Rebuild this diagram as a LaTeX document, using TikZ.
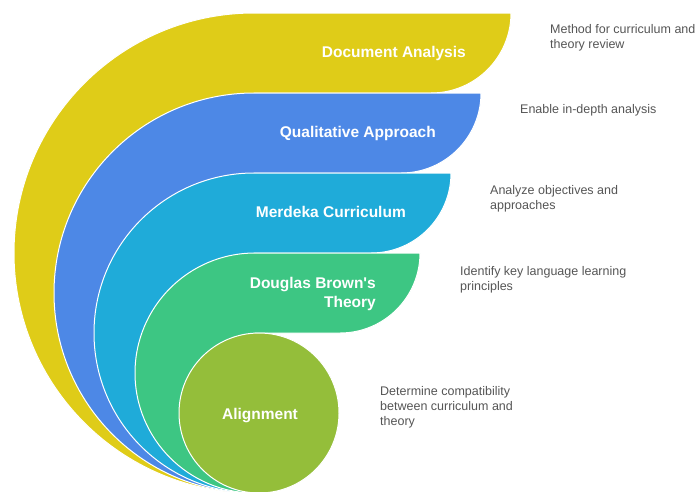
\documentclass[tikz,border=0pt]{standalone}
\usepackage{fontspec}
\setmainfont{Liberation Sans}[Ligatures=TeXOff]
\definecolor{docyellow}{HTML}{DFCC18}
\definecolor{qualblue}{HTML}{4D88E6}
\definecolor{merdekacyan}{HTML}{1FABD9}
\definecolor{browngreen}{HTML}{3DC683}
\definecolor{alignlime}{HTML}{94BE3A}
\definecolor{desctext}{HTML}{555555}
\begin{document}
\begin{tikzpicture}[x=1pt, y=1pt,
    layer/.style={draw=white, line width=1pt},
    title/.style={text=white, font=\fontsize{15.5}{19.5}\selectfont\bfseries, inner sep=0pt, align=right},
    desc/.style={text=desctext, font=\fontsize{12.5}{15}\selectfont, inner sep=0pt, align=left, anchor=north west}]
    \useasboundingbox (0,0) rectangle (700,-491);
    % nested layers
    \filldraw[layer, fill=docyellow] (254,-13) -- (511,-13) arc[start angle=0, end angle=-90, radius=80] -- (254,-93) -- (254,-493) arc[start angle=-90, end angle=-270, radius=240] -- cycle;
    \filldraw[layer, fill=qualblue] (254,-93) -- (481,-93) arc[start angle=0, end angle=-90, radius=80] -- (254,-173) -- (254,-493) arc[start angle=-90, end angle=-270, radius=200] -- cycle;
    \filldraw[layer, fill=merdekacyan] (254,-173) -- (451,-173) arc[start angle=0, end angle=-90, radius=80] -- (254,-253) -- (254,-493) arc[start angle=-90, end angle=-270, radius=160] -- cycle;
    \filldraw[layer, fill=browngreen] (255,-253) -- (420,-253) arc[start angle=0, end angle=-90, radius=80] -- (255,-333) -- (255,-493) arc[start angle=-90, end angle=-270, radius=120] -- cycle;
    \filldraw[layer, fill=alignlime] (259,-413) circle[radius=80];
    % titles
    \node[title, anchor=base east] (docanalysis) at (466,-57) {Document Analysis};
    \node[title, anchor=base east] (qualitative) at (436,-137) {Qualitative Approach};
    \node[title, anchor=base east] (merdeka) at (406,-217) {Merdeka Curriculum};
    \node[title, anchor=north east] (brown) at (376,-277) {Douglas Brown's\\Theory};
    \node[title, anchor=base] (alignment) at (260,-419) {Alignment};
    % descriptions
    \node[desc] (docdesc) at (550,-24) {Method for curriculum and\\theory review};
    \node[desc] (qualdesc) at (520,-104.5) {Enable in-depth analysis};
    \node[desc] (merdekadesc) at (490,-185) {Analyze objectives and\\approaches};
    \node[desc] (browndesc) at (460,-266) {Identify key language learning\\principles};
    \node[desc] (aligndesc) at (380,-386) {Determine compatibility\\between curriculum and\\theory};
\end{tikzpicture}
\end{document}
